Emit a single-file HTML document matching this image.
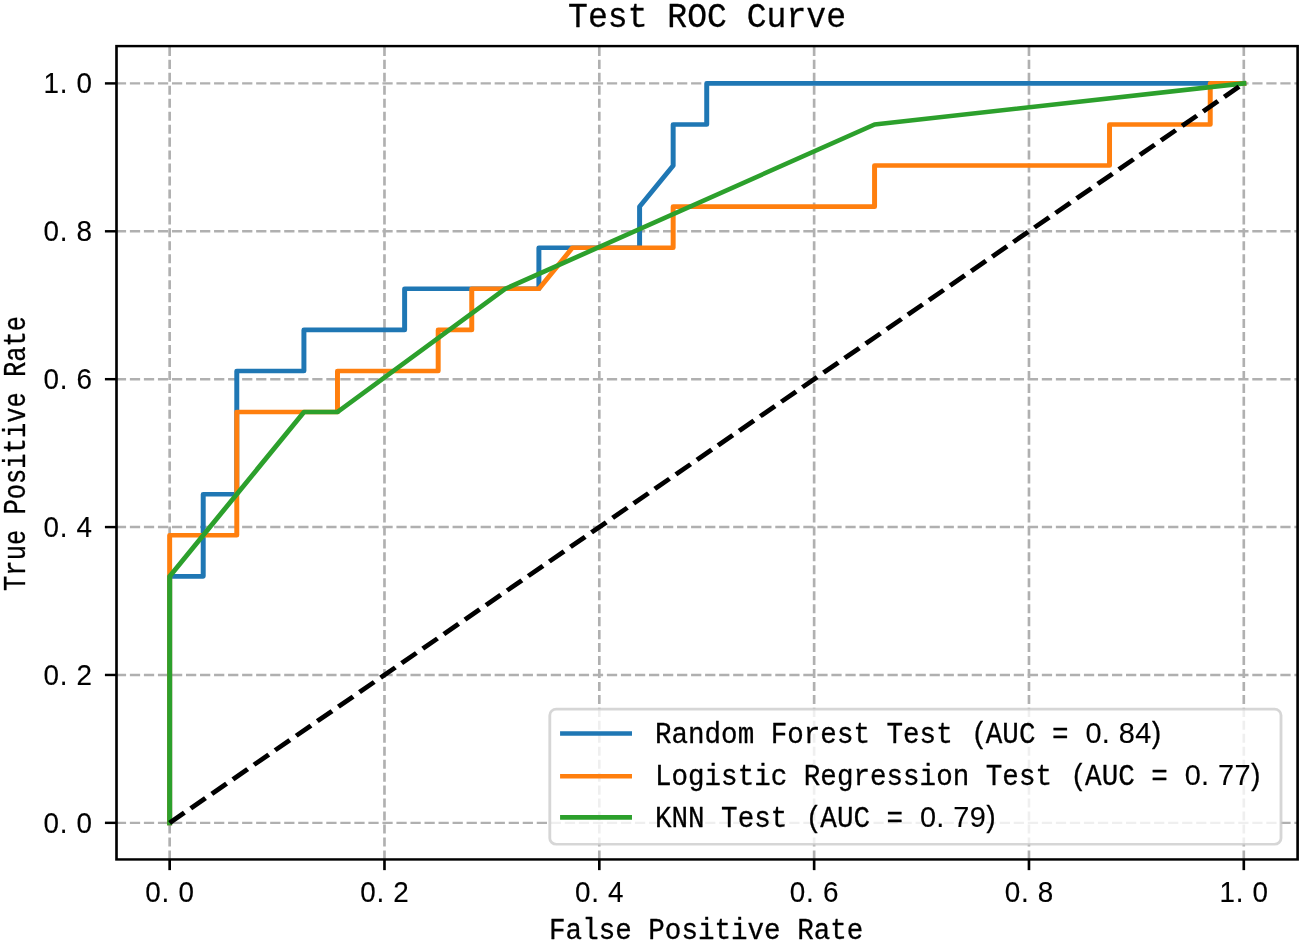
<!DOCTYPE html>
<html lang="en">
<head>
<meta charset="utf-8">
<title>Test ROC Curve</title>
<style>
html,body{margin:0;padding:0;background:#fff;}
body{width:1301px;height:941px;overflow:hidden;}
svg{display:block;}
text{font-family:"Liberation Mono","DejaVu Sans Mono",monospace;fill:#000;stroke:#000;stroke-width:0.3;stroke-linejoin:round;white-space:pre;}
.d{font-family:"Liberation Sans","DejaVu Sans",sans-serif;stroke-width:0.15;}
</style>
</head>
<body>
<svg width="1301" height="941" viewBox="0 0 1301 941">
<rect x="0" y="0" width="1301" height="941" fill="#ffffff"/>
<g transform="scale(3.309 3.0566)">
<g id="vgrid" stroke="#b0b0b0" stroke-width="0.8" stroke-dasharray="2.96 1.28" fill="none">
<line x1="51.269" y1="281.178" x2="51.269" y2="15.082"/>
<line x1="116.192" y1="281.178" x2="116.192" y2="15.082"/>
<line x1="181.115" y1="281.178" x2="181.115" y2="15.082"/>
<line x1="246.038" y1="281.178" x2="246.038" y2="15.082"/>
<line x1="310.961" y1="281.178" x2="310.961" y2="15.082"/>
<line x1="375.884" y1="281.178" x2="375.884" y2="15.082"/>
</g>
<g id="hgrid" stroke="#b0b0b0" stroke-width="0.8" stroke-dasharray="3.1 1.14" stroke-dashoffset="0.2" fill="none">
<line x1="35.207" y1="269.204" x2="392.143" y2="269.204"/>
<line x1="35.207" y1="220.821" x2="392.143" y2="220.821"/>
<line x1="35.207" y1="172.437" x2="392.143" y2="172.437"/>
<line x1="35.207" y1="124.053" x2="392.143" y2="124.053"/>
<line x1="35.207" y1="75.669" x2="392.143" y2="75.669"/>
<line x1="35.207" y1="27.285" x2="392.143" y2="27.285"/>
</g>
<g id="ticks" stroke="#000" stroke-width="0.8">
<line x1="51.269" y1="281.178" x2="51.269" y2="284.678"/>
<line x1="116.192" y1="281.178" x2="116.192" y2="284.678"/>
<line x1="181.115" y1="281.178" x2="181.115" y2="284.678"/>
<line x1="246.038" y1="281.178" x2="246.038" y2="284.678"/>
<line x1="310.961" y1="281.178" x2="310.961" y2="284.678"/>
<line x1="375.884" y1="281.178" x2="375.884" y2="284.678"/>
<line x1="35.207" y1="269.204" x2="31.707" y2="269.204"/>
<line x1="35.207" y1="220.821" x2="31.707" y2="220.821"/>
<line x1="35.207" y1="172.437" x2="31.707" y2="172.437"/>
<line x1="35.207" y1="124.053" x2="31.707" y2="124.053"/>
<line x1="35.207" y1="75.669" x2="31.707" y2="75.669"/>
<line x1="35.207" y1="27.285" x2="31.707" y2="27.285"/>
</g>
<g id="curves" fill="none" stroke-width="1.5" stroke-linejoin="round" stroke-linecap="square">
<polyline stroke="#1f77b4" points="51.269,269.204 51.269,188.565 61.413,188.565 61.413,161.685 71.558,161.685 71.558,121.365 91.846,121.365 91.846,107.925 122.279,107.925 122.279,94.485 162.856,94.485 162.856,81.045 193.288,81.045 193.288,67.605 203.432,54.165 203.432,40.725 213.577,40.725 213.577,27.285 375.884,27.285"/>
<polyline stroke="#ff7f0e" points="51.269,269.204 51.269,175.125 71.558,175.125 71.558,134.805 101.990,134.805 101.990,121.365 132.423,121.365 132.423,107.925 142.567,107.925 142.567,94.485 162.856,94.485 173.000,81.045 203.432,81.045 203.432,67.605 264.298,67.605 264.298,54.165 335.307,54.165 335.307,40.725 365.740,40.725 365.740,27.285 375.884,27.285"/>
<polyline stroke="#2ca02c" points="51.269,269.204 51.269,188.565 91.846,134.805 101.990,134.805 152.711,94.485 264.298,40.725 375.884,27.285"/>
<line stroke="#000" stroke-linecap="butt" stroke-dasharray="5.55 2.4" x1="51.269" y1="269.204" x2="375.884" y2="27.285"/>
</g>
<rect id="spines" x="35.207" y="15.082" width="356.936" height="266.096" fill="none" stroke="#000" stroke-width="0.8" stroke-linejoin="miter"/>
<rect id="legend" x="166.153" y="231.990" width="220.973" height="44.232" rx="2" ry="2" fill="#ffffff" fill-opacity="0.8" stroke="#cccccc" stroke-opacity="0.8" stroke-width="0.85"/>
<g fill="none" stroke-width="1.5" stroke-linecap="square">
<line stroke="#1f77b4" x1="170.006" y1="239.973" x2="190.239" y2="239.973"/>
<line stroke="#ff7f0e" x1="170.006" y1="253.975" x2="190.239" y2="253.975"/>
<line stroke="#2ca02c" x1="170.006" y1="267.421" x2="190.239" y2="267.421"/>
</g>
</g>
<text transform="translate(568.07 26.80) scale(0.9295 1.0000)" font-size="35.60">Test ROC Curve</text>
<text transform="translate(549.07 938.50) scale(0.9509 1.0000)" font-size="29.00">False Positive Rate</text>
<text transform="translate(25.00 590.92) rotate(-90) scale(0.8783 1.0826)" font-size="29.00">True Positive Rate</text>
<text transform="translate(144.83 901.50) scale(0.9150 1.0000)" x="0.55 18.30 36.71" font-size="30.40" class="d">0.0</text>
<text transform="translate(359.66 901.50) scale(0.9150 1.0000)" x="0.55 18.30 36.71" font-size="30.40" class="d">0.2</text>
<text transform="translate(574.49 901.50) scale(0.9150 1.0000)" x="0.55 18.30 36.71" font-size="30.40" class="d">0.4</text>
<text transform="translate(789.32 901.50) scale(0.9150 1.0000)" x="0.55 18.30 36.71" font-size="30.40" class="d">0.6</text>
<text transform="translate(1004.15 901.50) scale(0.9150 1.0000)" x="0.55 18.30 36.71" font-size="30.40" class="d">0.8</text>
<text transform="translate(1218.98 901.50) scale(0.9150 1.0000)" x="0.55 18.30 36.71" font-size="30.40" class="d">1.0</text>
<text transform="translate(42.96 93.10) scale(0.9150 1.0000)" x="0.55 18.30 36.71" font-size="30.40" class="d">1.0</text>
<text transform="translate(42.96 240.99) scale(0.9150 1.0000)" x="0.55 18.30 36.71" font-size="30.40" class="d">0.8</text>
<text transform="translate(42.96 388.88) scale(0.9150 1.0000)" x="0.55 18.30 36.71" font-size="30.40" class="d">0.6</text>
<text transform="translate(42.96 536.77) scale(0.9150 1.0000)" x="0.55 18.30 36.71" font-size="30.40" class="d">0.4</text>
<text transform="translate(42.96 684.66) scale(0.9150 1.0000)" x="0.55 18.30 36.71" font-size="30.40" class="d">0.2</text>
<text transform="translate(42.96 832.55) scale(0.9150 1.0000)" x="0.55 18.30 36.71" font-size="30.40" class="d">0.0</text>
<text transform="translate(654.90 742.70) scale(0.9509 1.0000)" x="0.00 17.40 34.80 52.20 69.60 87.00 104.40 121.80 139.20 156.60 174.00 191.40 208.80 226.20 243.60 261.00 278.40 295.80 313.20 332.39 348.00 365.40 382.80 400.20 417.60 435.00 452.93 470.01 487.73 505.13 518.00" font-size="29.00">Random Forest Test (AUC = <tspan class="d" font-size="30.40">0.84</tspan>)</text>
<text transform="translate(654.90 784.90) scale(0.9509 1.0000)" x="0.00 17.40 34.80 52.20 69.60 87.00 104.40 121.80 139.20 156.60 174.00 191.40 208.80 226.20 243.60 261.00 278.40 295.80 313.20 330.60 348.00 365.40 382.80 400.20 417.60 436.79 452.40 469.80 487.20 504.60 522.00 539.40 557.33 574.41 592.13 609.53 622.40" font-size="29.00">Logistic Regression Test (AUC = <tspan class="d" font-size="30.40">0.77</tspan>)</text>
<text transform="translate(654.90 827.40) scale(0.9509 1.0000)" x="0.00 17.40 34.80 52.20 69.60 87.00 104.40 121.80 139.20 158.39 174.00 191.40 208.80 226.20 243.60 261.00 278.93 296.01 313.73 331.13 344.00" font-size="29.00">KNN Test (AUC = <tspan class="d" font-size="30.40">0.79</tspan>)</text>
</svg>
</body>
</html>
